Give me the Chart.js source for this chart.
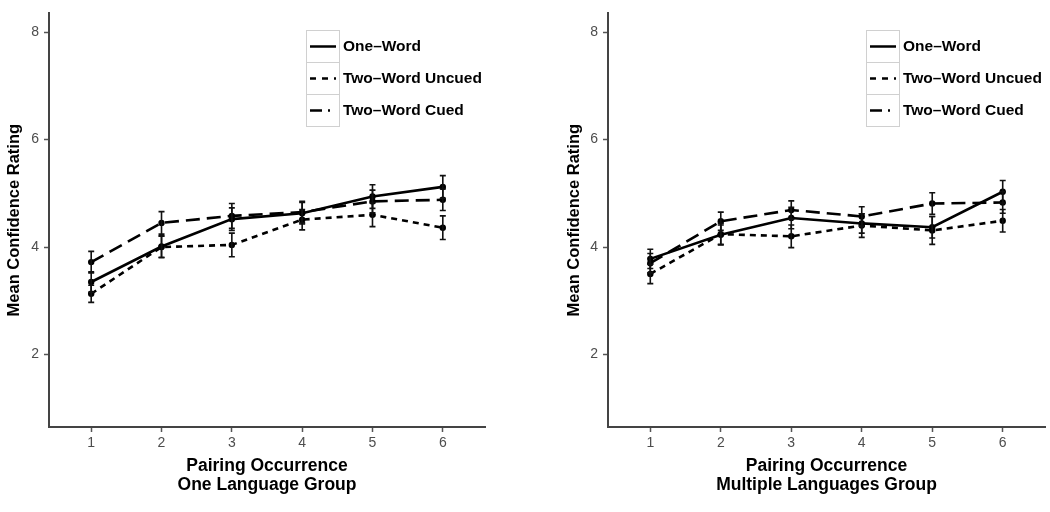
<!DOCTYPE html>
<html>
<head>
<meta charset="utf-8">
<script src="https://cdn.jsdelivr.net/npm/chart.js@4.4.1/dist/chart.umd.min.js"></script>
<style>
  html, body { margin: 0; padding: 0; background: #fff; }
  body { width: 1050px; height: 512px; position: relative; overflow: hidden; }
  .panel { position: absolute; top: 0; height: 512px; }
</style>
</head>
<body>
<div class="panel" style="left:0;width:490px"><canvas id="left"></canvas></div>
<div class="panel" style="left:555px;width:495px"><canvas id="right"></canvas></div>
<script>
// pairing occurrence (x) and y ticks
var occurrences = [1, 2, 3, 4, 5, 6];
var yTicks = [2, 4, 6, 8];
var seriesNames = ['One\u2013Word', 'Two\u2013Word Uncued', 'Two\u2013Word Cued'];

// one language group
var oneWordL = [3.35, 4.01, 4.52, 4.63, 4.94, 5.12];
var uncuedL  = [3.13, 4.00, 4.04, 4.51, 4.60, 4.36];
var cuedL    = [3.72, 4.45, 4.58, 4.65, 4.85, 4.88];
var seOneL   = [0.19, 0.20, 0.21, 0.20, 0.22, 0.21];
var seUncL   = [0.16, 0.20, 0.22, 0.19, 0.22, 0.22];
var seCuedL  = [0.20, 0.21, 0.23, 0.20, 0.21, 0.20];

// multiple languages group
var oneWordR = [3.78, 4.23, 4.54, 4.44, 4.37, 5.03];
var uncuedR  = [3.50, 4.24, 4.20, 4.40, 4.31, 4.49];
var cuedR    = [3.70, 4.48, 4.69, 4.57, 4.81, 4.83];
var seOneR   = [0.18, 0.18, 0.20, 0.18, 0.20, 0.21];
var seUncR   = [0.18, 0.20, 0.21, 0.22, 0.26, 0.21];
var seCuedR  = [0.18, 0.17, 0.17, 0.18, 0.20, 0.20];

var dashes = [[], [6, 5], [14, 7]];
var keyDashes = [[], [6, 6], [12, 6, 2, 6]];
var FONT = 'Liberation Sans, Arial, Helvetica, sans-serif';

// vertical error bars with caps, drawn through the chart scales
var errorBars = {
    id: 'errorBars',
    afterDatasetsDraw: function (chart) {
        var ctx = chart.ctx;
        var xs = chart.scales.x, ys = chart.scales.y;
        ctx.save();
        ctx.strokeStyle = '#111';
        ctx.lineWidth = 1.6;
        ctx.setLineDash([]);
        chart.data.datasets.forEach(function (ds) {
            ds.data.forEach(function (p, i) {
                var x = xs.getPixelForValue(p.x);
                var top = ys.getPixelForValue(p.y + ds.se[i]);
                var bot = ys.getPixelForValue(p.y - ds.se[i]);
                ctx.beginPath();
                ctx.moveTo(x, top); ctx.lineTo(x, bot);
                ctx.moveTo(x - 3, top); ctx.lineTo(x + 3, top);
                ctx.moveTo(x - 3, bot); ctx.lineTo(x + 3, bot);
                ctx.stroke();
            });
        });
        ctx.restore();
    }
};

// boxed legend inside the plot, like the original
var boxLegend = {
    id: 'boxLegend',
    afterDraw: function (chart, args, opts) {
        var ctx = chart.ctx;
        var x = opts.x, y = opts.y, w = 33, h = 32;
        ctx.save();
        seriesNames.forEach(function (name, i) {
            var top = y + i * h;
            ctx.strokeStyle = '#d0d0d0';
            ctx.lineWidth = 1;
            ctx.setLineDash([]);
            ctx.strokeRect(x + 0.5, top + 0.5, w, h);
            ctx.strokeStyle = '#000';
            ctx.lineWidth = 2.5;
            ctx.setLineDash(keyDashes[i]);
            ctx.beginPath();
            ctx.moveTo(x + 4, top + h / 2 + 0.5);
            ctx.lineTo(x + w - 3, top + h / 2 + 0.5);
            ctx.stroke();
            ctx.setLineDash([]);
            ctx.fillStyle = '#000';
            ctx.font = 'bold 15.5px ' + FONT;
            ctx.textBaseline = 'middle';
            ctx.fillText(name, x + w + 4, top + h / 2 + 1);
        });
        ctx.restore();
    }
};

function makeDatasets(means, ses) {
    return means.map(function (vals, i) {
        return {
            label: seriesNames[i],
            data: occurrences.map(function (o, j) { return { x: o, y: vals[j] }; }),
            se: ses[i],
            showLine: true,
            borderColor: '#000',
            backgroundColor: '#000',
            borderWidth: 2.6,
            borderDash: dashes[i],
            pointRadius: 3.2,
            pointBackgroundColor: '#000',
            pointBorderWidth: 0
        };
    });
}

function makeChart(id, title, means, ses, yWidth, yTitlePad, legendX) {
    new Chart(document.getElementById(id), {
        type: 'scatter',
        data: { datasets: makeDatasets(means, ses) },
        plugins: [errorBars, boxLegend],
        options: {
            responsive: true,
            maintainAspectRatio: false,
            animation: false,
            layout: { padding: { top: 12, right: 5, bottom: 0, left: 0 } },
            plugins: {
                legend: { display: false },
                tooltip: { enabled: false },
                boxLegend: { x: legendX, y: 30 }
            },
            scales: {
                x: {
                    type: 'linear',
                    min: 0.4,
                    max: 6.6,
                    afterBuildTicks: function (s) {
                        s.ticks = occurrences.map(function (v) { return { value: v }; });
                    },
                    afterFit: function (s) { s.height = 85; },
                    grid: { drawOnChartArea: false, tickLength: 5, color: '#555', tickWidth: 1.5 },
                    border: { display: true, color: '#444', width: 2 },
                    ticks: { color: '#4d4d4d', font: { family: FONT, size: 14 }, padding: 3 },
                    title: {
                        display: true,
                        text: ['Pairing Occurrence', title],
                        color: '#000',
                        font: { family: FONT, size: 17.5, weight: 'bold', lineHeight: 1.1 },
                        padding: { top: 0, bottom: 17 }
                    }
                },
                y: {
                    min: 0.65,
                    max: 8.35,
                    afterBuildTicks: function (s) {
                        s.ticks = yTicks.map(function (v) { return { value: v }; });
                    },
                    afterFit: function (s) { s.width = yWidth; },
                    grid: { drawOnChartArea: false, tickLength: 5, color: '#555', tickWidth: 1.5 },
                    border: { display: true, color: '#444', width: 2 },
                    ticks: { color: '#4d4d4d', font: { family: FONT, size: 14 }, padding: 5 },
                    title: {
                        display: true,
                        text: 'Mean Confidence Rating',
                        color: '#000',
                        font: { family: FONT, size: 16.5, weight: 'bold' },
                        padding: { top: yTitlePad, bottom: 0 }
                    }
                }
            }
        }
    });
}

makeChart('left', 'One Language Group',
    [oneWordL, uncuedL, cuedL], [seOneL, seUncL, seCuedL], 49, 5, 306);
makeChart('right', 'Multiple Languages Group',
    [oneWordR, uncuedR, cuedR], [seOneR, seUncR, seCuedR], 53, 10, 311);
</script>
</body>
</html>
